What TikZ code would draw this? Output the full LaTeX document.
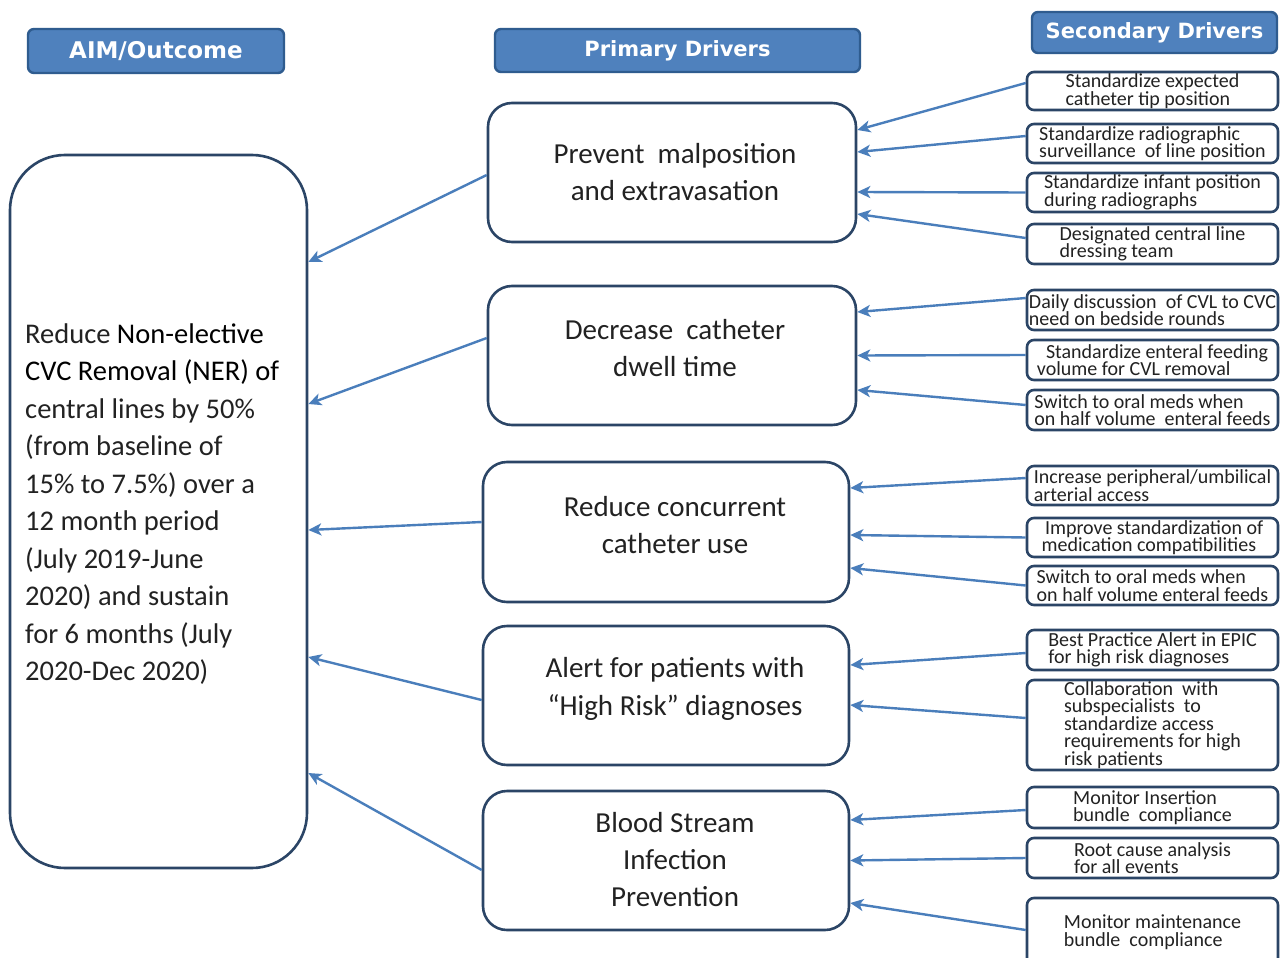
\documentclass[tikz,border=0pt]{standalone}
\usepackage{fontspec}
\setmainfont{Carlito}
\newfontfamily\hdrfont{DejaVu Sans}
\usetikzlibrary{arrows.meta,calc}
\definecolor{hdrfill}{HTML}{4F81BD}
\definecolor{hdrline}{HTML}{2F5C8F}
\definecolor{boxline}{HTML}{2B4566}
\definecolor{arrowc}{HTML}{4A7EBB}
\definecolor{txt}{HTML}{222222}
\begin{document}
\begin{tikzpicture}[x=1pt,y=-1pt,
  hdr/.style={draw=hdrline, fill=hdrfill, line width=2.4pt, rounded corners=6pt, text=white,
    font=\hdrfont\bfseries\fontsize{21}{24}\selectfont, inner sep=0pt},
  primbox/.style={draw=boxline, line width=2.6pt, rounded corners=24pt, inner sep=0pt},
  primtext/.style={align=center, font=\fontsize{29}{37.5}\selectfont, text=txt, inner sep=0pt},
  secbox/.style={draw=boxline, line width=2.6pt, rounded corners=7pt, align=left,
    font=\fontsize{20}{17.5}\selectfont, text=txt, inner sep=0pt, minimum width=251pt},
  arr/.style={draw=arrowc, line width=2.4pt, -{Stealth[length=13pt,width=12pt,inset=3.5pt]}}
]
\clip (0,0) rectangle (1280,958);
\fill[white] (0,0) rectangle (1280,958);

% headers
\node[hdr, minimum width=256pt, minimum height=44pt, font=\hdrfont\bfseries\fontsize{23}{26}\selectfont] (haim) at (156,51) {AIM/Outcome};
\node[hdr, minimum width=365pt, minimum height=43pt] (hprim) at (677.5,50.5) {Primary Drivers};
\node[hdr, minimum width=245pt, minimum height=41pt] (hsec) at (1154.5,32.5) {Secondary Drivers};

% aim
\node[draw=boxline, line width=2.6pt, rounded corners=55pt, minimum width=297pt, minimum height=713pt, inner sep=0pt] (aim) at (158.5,511.5) {};
\node[anchor=west, align=left, font=\fontsize{28.5}{37.5}\selectfont, text=txt, inner sep=0pt] (aimtext) at (25,504)
 {Reduce {\color{black}Non-elective}\\{\color{black}CVC Removal (NER) of}\\central lines by 50\%\\(from baseline of\\15\% to 7.5\%) over a\\12 month period\\(July 2019-June\\2020) and sustain\\for 6 months (July\\2020-Dec 2020)};

% primary drivers
\node[primbox, minimum width=368pt, minimum height=139pt] (p1) at (672,172.5) {};
\node[primtext] (p1t) at (675,172) {Prevent\ \ malposition\\and extravasation};
\node[primbox, minimum width=368pt, minimum height=139pt] (p2) at (672,355.5) {};
\node[primtext] (p2t) at (675,348) {Decrease\ \ catheter\\dwell time};
\node[primbox, minimum width=366pt, minimum height=140pt] (p3) at (666,532) {};
\node[primtext] (p3t) at (675,525) {Reduce concurrent\\catheter use};
\node[primbox, minimum width=366pt, minimum height=139pt] (p4) at (666,695.5) {};
\node[primtext] (p4t) at (675,689) {Alert for patients with\\``High Risk'' diagnoses};
\node[primbox, minimum width=366pt, minimum height=139pt] (p5) at (666,860.5) {};
\node[primtext, font=\fontsize{29}{37}\selectfont] (p5t) at (675,860) {Blood Stream\\Infection\\Prevention};

% secondary drivers
\node[secbox, minimum height=38pt] (s1) at (1152.5,91) {Standardize expected\\catheter tip position};
\node[secbox, minimum height=39pt] (s2) at (1152.5,143.5) {Standardize radiographic\\surveillance\ \ of line position};
\node[secbox, minimum height=39pt] (s3) at (1152.5,192.5) {Standardize infant position\\during radiographs};
\node[secbox, minimum height=40pt] (s4) at (1152.5,244) {Designated central line\\dressing team};
\node[secbox, minimum height=40pt] (s5) at (1152.5,310) {Daily discussion\ \ of CVL to CVC\\need on bedside rounds};
\node[secbox, minimum height=40pt] (s6) at (1152.5,360) {\ \ Standardize enteral feeding\\volume for CVL removal};
\node[secbox, minimum height=40pt] (s7) at (1152.5,410) {Switch to oral meds when\\on half volume\ \ enteral feeds};
\node[secbox, minimum height=39pt] (s8) at (1152.5,485.5) {Increase peripheral/umbilical\\arterial access};
\node[secbox, minimum height=39pt] (s9) at (1152.5,537.5) {\,Improve standardization of\\medication compatibilities};
\node[secbox, minimum height=39pt] (s10) at (1152.5,585.5) {Switch to oral meds when\\on half volume enteral feeds};
\node[secbox, minimum height=40pt] (s11) at (1152.5,650) {Best Practice Alert in EPIC\\for high risk diagnoses};
\node[secbox, minimum height=90pt, font=\fontsize{20}{17.5}\selectfont] (s12) at (1152.5,725) {Collaboration\ \ with\\subspecialists\ \ to\\standardize access\\requirements for high\\risk patients};
\node[secbox, minimum height=41pt] (s13) at (1152.5,807.5) {Monitor Insertion\\bundle\ \ compliance};
\node[secbox, minimum height=40pt] (s14) at (1152.5,858) {Root cause analysis\\for all events\hspace{3em}};
\node[secbox, minimum height=68pt] (s15) at (1152.5,932) {Monitor maintenance\\bundle\ \ compliance};

% secondary -> primary
\draw[arr] ($(s1.west)+(0,-8)$) -- ($(p1.east)+(0,-42.5)$);
\draw[arr] ($(s2.west)+(0,-7.5)$) -- ($(p1.east)+(0,-20.5)$);
\draw[arr] (s3.west) -- ($(p1.east)+(0,19.5)$);
\draw[arr] ($(s4.west)+(0,-6)$) -- ($(p1.east)+(0,41.5)$);
\draw[arr] ($(s5.west)+(0,-12)$) -- ($(p2.east)+(0,-43.5)$);
\draw[arr] ($(s6.west)+(0,-5)$) -- ($(p2.east)+(0,0)$);
\draw[arr] ($(s7.west)+(0,-5)$) -- ($(p2.east)+(0,34.5)$);
\draw[arr] ($(s8.west)+(0,-7.5)$) -- ($(p3.east)+(0,-44)$);
\draw[arr] (s9.west) -- ($(p3.east)+(0,3)$);
\draw[arr] (s10.west) -- ($(p3.east)+(0,36)$);
\draw[arr] ($(s11.west)+(0,3)$) -- ($(p4.east)+(0,-30.5)$);
\draw[arr] ($(s12.west)+(0,-7)$) -- ($(p4.east)+(0,9.5)$);
\draw[arr] ($(s13.west)+(0,2.5)$) -- ($(p5.east)+(0,-40.5)$);
\draw[arr] (s14.west) -- ($(p5.east)+(0,0)$);
\draw[arr] ($(s15.west)+(0,-2)$) -- ($(p5.east)+(0,42.5)$);

% primary -> aim
\draw[arr] ($(p1.west)+(0,2.5)$) -- ($(aim.east)+(0,-249.5)$);
\draw[arr] ($(p2.west)+(0,-17.5)$) -- ($(aim.east)+(0,-107.5)$);
\draw[arr] ($(p3.west)+(0,-10)$) -- ($(aim.east)+(0,18.5)$);
\draw[arr] ($(p4.west)+(0,4.5)$) -- ($(aim.east)+(0,145.5)$);
\draw[arr] ($(p5.west)+(0,9.5)$) -- ($(aim.east)+(0,261.5)$);
\end{tikzpicture}
\end{document}
